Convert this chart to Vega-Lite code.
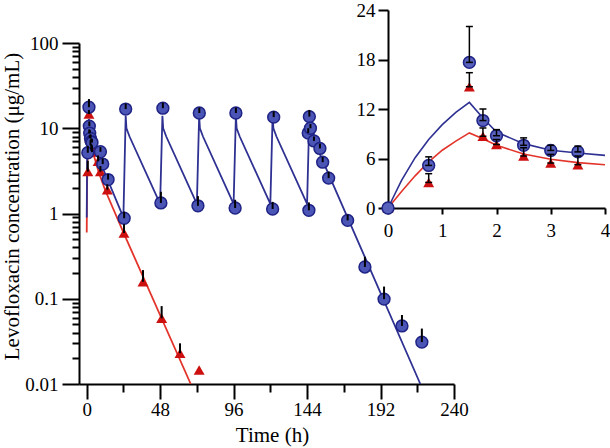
{
  "$schema": "https://vega.github.io/schema/vega-lite/v6.json",
  "width": 375,
  "height": 341,
  "autosize": {"type": "none"},
  "padding": {"left": 79, "top": 43, "right": 156, "bottom": 64},
  "background": "white",
  "config": {
    "view": {"stroke": null},
    "font": "Liberation Serif",
    "axis": {
      "labelFont": "Liberation Serif",
      "titleFont": "Liberation Serif",
      "labelColor": "black",
      "titleColor": "black",
      "domainColor": "black",
      "tickColor": "black",
      "domainWidth": 2,
      "tickWidth": 2,
      "grid": false,
      "labelFontSize": 19,
      "titleFontSize": 21,
      "titleFontWeight": "normal"
    }
  },
  "datasets": {
    "obs": [
      {"g": "r", "t": 0, "c": 0, "up": null},
      {"g": "r", "t": 0.75, "c": 3.1, "up": 4.16},
      {"g": "r", "t": 1.5, "c": 14.7, "up": 16.4},
      {"g": "r", "t": 1.75, "c": 8.7, "up": 9.7},
      {"g": "r", "t": 2, "c": 7.7, "up": 8.3},
      {"g": "r", "t": 2.5, "c": 6.3, "up": 7.3},
      {"g": "r", "t": 3, "c": 5.45, "up": 6.5},
      {"g": "r", "t": 3.5, "c": 5.25, "up": 6.3},
      {"g": "r", "t": 7.5, "c": 4.1, "up": 4.8},
      {"g": "r", "t": 9, "c": 3.1, "up": 3.6},
      {"g": "r", "t": 13.5, "c": 1.9, "up": 2.2},
      {"g": "r", "t": 24.4, "c": 0.59, "up": 0.75},
      {"g": "r", "t": 36.8, "c": 0.158, "up": 0.217},
      {"g": "r", "t": 49, "c": 0.059, "up": 0.082},
      {"g": "r", "t": 61, "c": 0.023, "up": 0.03},
      {"g": "r", "t": 73.5, "c": 0.0146, "up": null},
      {"g": "b", "t": 0, "c": 0, "up": null},
      {"g": "b", "t": 0.75, "c": 5.16, "up": 6.2},
      {"g": "b", "t": 1.5, "c": 17.65, "up": 22.0},
      {"g": "b", "t": 1.75, "c": 10.6, "up": 12.0},
      {"g": "b", "t": 2, "c": 8.76, "up": 9.5},
      {"g": "b", "t": 2.5, "c": 7.6, "up": 8.5},
      {"g": "b", "t": 3, "c": 6.98, "up": 7.6},
      {"g": "b", "t": 3.5, "c": 6.8, "up": 7.5},
      {"g": "b", "t": 9, "c": 5.3, "up": 6.0},
      {"g": "b", "t": 10.5, "c": 3.8, "up": 4.4},
      {"g": "b", "t": 14, "c": 2.5, "up": 2.9},
      {"g": "b", "t": 24.5, "c": 0.88, "up": 1.05},
      {"g": "b", "t": 25.5, "c": 16.8, "up": 19.5},
      {"g": "b", "t": 48.5, "c": 1.33, "up": 1.8},
      {"g": "b", "t": 49.8, "c": 17.2, "up": 20},
      {"g": "b", "t": 72.7, "c": 1.23, "up": 1.6},
      {"g": "b", "t": 73.6, "c": 15.1, "up": 17.5},
      {"g": "b", "t": 97, "c": 1.16, "up": 1.45},
      {"g": "b", "t": 97.5, "c": 15.1, "up": 17.5},
      {"g": "b", "t": 121.5, "c": 1.13, "up": 1.37},
      {"g": "b", "t": 122.2, "c": 13.5, "up": 15.8},
      {"g": "b", "t": 145.2, "c": 1.09, "up": 1.35},
      {"g": "b", "t": 144.75, "c": 8.8, "up": 10},
      {"g": "b", "t": 145.5, "c": 13.7, "up": 16.4},
      {"g": "b", "t": 146.2, "c": 10.0, "up": 11.2},
      {"g": "b", "t": 148.5, "c": 7.1, "up": 8.0},
      {"g": "b", "t": 152.4, "c": 5.8, "up": 6.6},
      {"g": "b", "t": 154.2, "c": 4.0, "up": 4.6},
      {"g": "b", "t": 158.1, "c": 2.6, "up": 3.1},
      {"g": "b", "t": 170.5, "c": 0.83, "up": 0.97},
      {"g": "b", "t": 181.8, "c": 0.236, "up": 0.311},
      {"g": "b", "t": 194.3, "c": 0.099, "up": 0.139},
      {"g": "b", "t": 206, "c": 0.048, "up": 0.0645},
      {"g": "b", "t": 219, "c": 0.031, "up": 0.0447}
    ],
    "modelMain": [
      {"g": "r", "t": 0.05, "c": 0.6},
      {"g": "r", "t": 0.25, "c": 2.0},
      {"g": "r", "t": 0.5, "c": 3.9},
      {"g": "r", "t": 0.75, "c": 5.6},
      {"g": "r", "t": 1, "c": 7.0},
      {"g": "r", "t": 1.25, "c": 8.1},
      {"g": "r", "t": 1.5, "c": 9.1},
      {"g": "r", "t": 1.75, "c": 8.4},
      {"g": "r", "t": 2, "c": 7.6},
      {"g": "r", "t": 2.5, "c": 6.55},
      {"g": "r", "t": 3, "c": 5.9},
      {"g": "r", "t": 3.5, "c": 5.5},
      {"g": "r", "t": 4, "c": 5.25},
      {"g": "r", "t": 6, "c": 4.0},
      {"g": "r", "t": 8, "c": 3.0},
      {"g": "r", "t": 12, "c": 1.9},
      {"g": "r", "t": 24, "c": 0.6},
      {"g": "r", "t": 68, "c": 0.01},
      {"g": "b", "t": 0.05, "c": 0.9},
      {"g": "b", "t": 0.25, "c": 3.35},
      {"g": "b", "t": 0.5, "c": 6.1},
      {"g": "b", "t": 0.75, "c": 8.3},
      {"g": "b", "t": 1, "c": 10.1},
      {"g": "b", "t": 1.25, "c": 11.6},
      {"g": "b", "t": 1.5, "c": 12.8},
      {"g": "b", "t": 1.75, "c": 10.9},
      {"g": "b", "t": 2, "c": 9.2},
      {"g": "b", "t": 2.5, "c": 7.8},
      {"g": "b", "t": 3, "c": 7.0},
      {"g": "b", "t": 3.5, "c": 6.67},
      {"g": "b", "t": 4, "c": 6.38},
      {"g": "b", "t": 8, "c": 4.3},
      {"g": "b", "t": 12, "c": 2.95},
      {"g": "b", "t": 24, "c": 0.9},
      {"g": "b", "t": 25.5, "c": 14},
      {"g": "b", "t": 26, "c": 10},
      {"g": "b", "t": 28, "c": 8},
      {"g": "b", "t": 48, "c": 1.3},
      {"g": "b", "t": 49.5, "c": 14},
      {"g": "b", "t": 50, "c": 10},
      {"g": "b", "t": 52, "c": 8},
      {"g": "b", "t": 72, "c": 1.3},
      {"g": "b", "t": 73.5, "c": 14},
      {"g": "b", "t": 74, "c": 10},
      {"g": "b", "t": 76, "c": 8},
      {"g": "b", "t": 96, "c": 1.3},
      {"g": "b", "t": 97.5, "c": 14},
      {"g": "b", "t": 98, "c": 10},
      {"g": "b", "t": 100, "c": 8},
      {"g": "b", "t": 120, "c": 1.3},
      {"g": "b", "t": 121.5, "c": 14},
      {"g": "b", "t": 122, "c": 10},
      {"g": "b", "t": 124, "c": 8},
      {"g": "b", "t": 144, "c": 1.3},
      {"g": "b", "t": 145.5, "c": 14},
      {"g": "b", "t": 146, "c": 10},
      {"g": "b", "t": 148, "c": 7.5},
      {"g": "b", "t": 218, "c": 0.01}
    ],
    "modelInset": [
      {"g": "r", "t": 0, "c": 0},
      {"g": "r", "t": 0.25, "c": 2.0},
      {"g": "r", "t": 0.5, "c": 3.9},
      {"g": "r", "t": 0.75, "c": 5.6},
      {"g": "r", "t": 1, "c": 7.0},
      {"g": "r", "t": 1.25, "c": 8.1},
      {"g": "r", "t": 1.5, "c": 9.1},
      {"g": "r", "t": 1.75, "c": 8.4},
      {"g": "r", "t": 2, "c": 7.6},
      {"g": "r", "t": 2.5, "c": 6.55},
      {"g": "r", "t": 3, "c": 5.9},
      {"g": "r", "t": 3.5, "c": 5.5},
      {"g": "r", "t": 4, "c": 5.25},
      {"g": "b", "t": 0, "c": 0},
      {"g": "b", "t": 0.25, "c": 3.35},
      {"g": "b", "t": 0.5, "c": 6.1},
      {"g": "b", "t": 0.75, "c": 8.3},
      {"g": "b", "t": 1, "c": 10.1},
      {"g": "b", "t": 1.25, "c": 11.6},
      {"g": "b", "t": 1.5, "c": 12.8},
      {"g": "b", "t": 1.75, "c": 10.9},
      {"g": "b", "t": 2, "c": 9.2},
      {"g": "b", "t": 2.5, "c": 7.8},
      {"g": "b", "t": 3, "c": 7.0},
      {"g": "b", "t": 3.5, "c": 6.67},
      {"g": "b", "t": 4, "c": 6.38}
    ]
  },
  "layer": [
    {
      "encoding": {
        "x": {
          "field": "t", "type": "quantitative",
          "scale": {"domain": [-5, 240], "nice": false, "zero": false},
          "axis": {
            "orient": "bottom",
            "values": [0, 24, 48, 72, 96, 120, 144, 168, 192, 216, 240],
            "labelExpr": "datum.value % 48 == 0 ? format(datum.value, 'd') : ''",
            "tickSize": {"condition": {"test": "datum.value % 48 == 0", "value": 15}, "value": 8},
            "labelPadding": 1,
            "labelFlush": false,
            "labelOverlap": false,
            "title": "Time (h)",
            "titleX": 193,
            "titleY": 40
          }
        },
        "y": {
          "field": "c", "type": "quantitative",
          "scale": {"type": "log", "domain": [0.01, 100], "nice": false},
          "axis": {
            "orient": "left",
            "values": [0.01, 0.02, 0.03, 0.04, 0.05, 0.06, 0.07, 0.08, 0.09, 0.1, 0.2, 0.3, 0.4, 0.5, 0.6, 0.7, 0.8, 0.9, 1, 2, 3, 4, 5, 6, 7, 8, 9, 10, 20, 30, 40, 50, 60, 70, 80, 90, 100],
            "labelExpr": "indexof([0.01, 0.1, 1, 10, 100], datum.value) >= 0 ? format(datum.value, '~g') : ''",
            "tickSize": {"condition": {"test": "indexof([0.01, 0.1, 1, 10, 100], datum.value) >= 0", "value": 17}, "value": 7},
            "labelPadding": 4,
            "labelOverlap": false,
            "labelFlush": false,
            "title": "Levofloxacin concentration (μg/mL)",
            "titleFontSize": 21,
            "titleX": -57,
            "titleY": 163
          }
        }
      },
      "layer": [
        {
          "data": {"name": "modelMain"},
          "transform": [{"filter": "datum.g == 'r'"}],
          "mark": {"type": "line", "color": "#e3342b", "strokeWidth": 1.8},
          "encoding": {"order": {"field": "t"}}
        },
        {
          "data": {"name": "modelMain"},
          "transform": [{"filter": "datum.g == 'b'"}],
          "mark": {"type": "line", "color": "#2e3192", "strokeWidth": 1.8},
          "encoding": {"order": {"field": "t"}}
        },
        {
          "data": {"name": "obs"},
          "transform": [{"filter": "datum.g == 'r' && datum.c > 0"}],
          "mark": {"type": "point", "shape": "triangle-up", "filled": true, "color": "#cc1010", "opacity": 1, "size": 120}
        },
        {
          "data": {"name": "obs"},
          "transform": [{"filter": "datum.g == 'b' && datum.c > 0"}],
          "mark": {"type": "point", "shape": "circle", "filled": true, "fill": "#4b55b5", "stroke": "#1f2385", "strokeWidth": 1.5, "opacity": 1, "size": 140}
        },
        {
          "data": {"name": "obs"},
          "transform": [{"filter": "datum.c > 0 && datum.up != null"}],
          "mark": {"type": "rule", "color": "black", "strokeWidth": 2},
          "encoding": {"y2": {"field": "up"}}
        }
      ]
    },
    {
      "encoding": {
        "x": {
          "field": "t", "type": "quantitative",
          "scale": {"domain": [0, 4], "nice": false, "zero": false, "range": [309, 526]},
          "axis": {
            "orient": "bottom",
            "offset": -176,
            "values": [0, 1, 2, 3, 4],
            "tickSize": 6,
            "labelPadding": 7,
            "labelFlush": false,
            "labelOverlap": false,
            "title": null
          }
        },
        "y": {
          "field": "c", "type": "quantitative",
          "scale": {"domain": [0, 24], "nice": false, "range": [165, -33]},
          "axis": {
            "orient": "left",
            "offset": -309,
            "values": [0, 6, 12, 18, 24],
            "tickSize": 10,
            "labelPadding": 3,
            "labelFlush": false,
            "labelOverlap": false,
            "title": null
          }
        }
      },
      "layer": [
        {
          "data": {"name": "modelInset"},
          "transform": [{"filter": "datum.g == 'r'"}],
          "mark": {"type": "line", "color": "#e3342b", "strokeWidth": 1.6},
          "encoding": {"order": {"field": "t"}}
        },
        {
          "data": {"name": "modelInset"},
          "transform": [{"filter": "datum.g == 'b'"}],
          "mark": {"type": "line", "color": "#2e3192", "strokeWidth": 1.6},
          "encoding": {"order": {"field": "t"}}
        },
        {
          "data": {"name": "obs"},
          "transform": [{"filter": "datum.g == 'r' && datum.t <= 4"}],
          "mark": {"type": "point", "shape": "triangle-up", "filled": true, "color": "#cc1010", "opacity": 1, "size": 120}
        },
        {
          "data": {"name": "obs"},
          "transform": [{"filter": "datum.g == 'b' && datum.t <= 4"}],
          "mark": {"type": "point", "shape": "circle", "filled": true, "fill": "#5862bd", "stroke": "#1f2385", "strokeWidth": 1.5, "opacity": 1, "size": 140}
        },
        {
          "data": {"name": "obs"},
          "transform": [{"filter": "datum.t <= 4 && datum.up != null"}],
          "mark": {"type": "rule", "color": "black", "strokeWidth": 1.5},
          "encoding": {"y2": {"field": "up"}}
        },
        {
          "data": {"name": "obs"},
          "transform": [{"filter": "datum.t <= 4 && datum.up != null"}],
          "mark": {"type": "tick", "orient": "horizontal", "color": "black", "size": 7, "thickness": 1.5, "opacity": 1},
          "encoding": {"y": {"field": "up", "type": "quantitative"}}
        },
        {
          "data": {"name": "obs"},
          "transform": [{"filter": "datum.t <= 4 && datum.up != null"}],
          "mark": {"type": "tick", "orient": "horizontal", "color": "black", "size": 7, "thickness": 1.5, "opacity": 1}
        }
      ]
    }
  ],
  "resolve": {"scale": {"x": "independent", "y": "independent"}}
}
